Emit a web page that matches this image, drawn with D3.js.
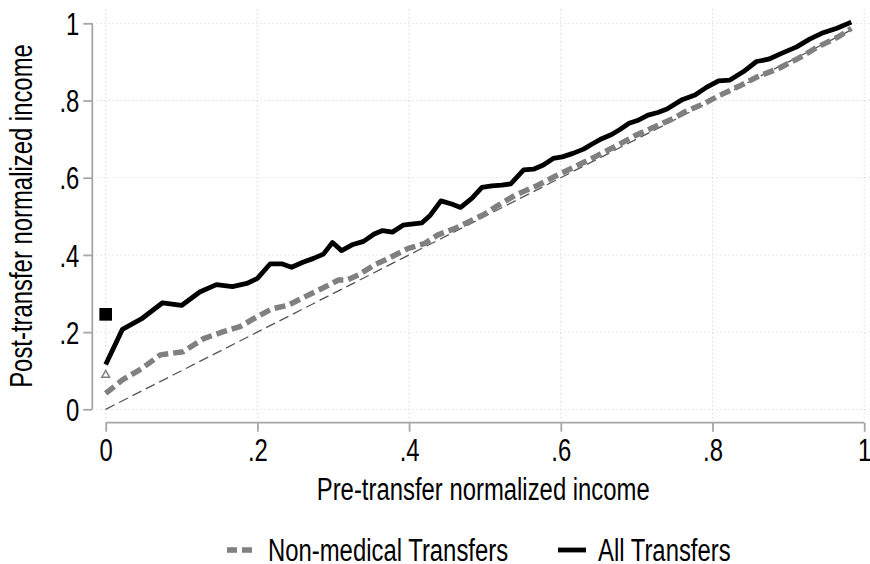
<!DOCTYPE html>
<html>
<head>
<meta charset="utf-8">
<script src="https://cdn.jsdelivr.net/npm/d3@7"></script>
<style>
  html, body { margin: 0; padding: 0; background: #fff; }
  svg { display: block; }
  text { font-family: "Liberation Sans Narrow", "Arial Narrow", "Liberation Sans", Arial, sans-serif; fill: #000; }
</style>
</head>
<body>
<svg id="chart" width="870" height="564"></svg>
<script>
// ---------------- DATA ----------------
const xTicks = [0, 0.2, 0.4, 0.6, 0.8, 1];
const xTickLabels = ["0", ".2", ".4", ".6", ".8", "1"];
const yTicks = [0, 0.2, 0.4, 0.6, 0.8, 1];
const yTickLabels = ["0", ".2", ".4", ".6", ".8", "1"];

const allX = [0, 0.022, 0.047, 0.075, 0.100, 0.124, 0.146, 0.167, 0.186, 0.200, 0.217, 0.232, 0.245, 0.260, 0.274, 0.287, 0.299, 0.311, 0.326, 0.340, 0.354, 0.365, 0.378, 0.392, 0.403, 0.417, 0.428, 0.442, 0.456, 0.468, 0.483, 0.496, 0.509, 0.522, 0.534, 0.551, 0.564, 0.577, 0.590, 0.602, 0.616, 0.630, 0.642, 0.654, 0.667, 0.678, 0.690, 0.701, 0.715, 0.728, 0.740, 0.759, 0.777, 0.792, 0.808, 0.823, 0.841, 0.858, 0.874, 0.891, 0.911, 0.928, 0.944, 0.964, 0.983];
const allY = [0.116, 0.207, 0.234, 0.276, 0.269, 0.304, 0.323, 0.318, 0.326, 0.339, 0.377, 0.377, 0.368, 0.381, 0.391, 0.402, 0.432, 0.411, 0.427, 0.435, 0.454, 0.463, 0.459, 0.477, 0.480, 0.483, 0.503, 0.540, 0.532, 0.523, 0.547, 0.575, 0.579, 0.581, 0.584, 0.620, 0.622, 0.633, 0.650, 0.654, 0.663, 0.674, 0.688, 0.701, 0.712, 0.725, 0.741, 0.748, 0.762, 0.769, 0.778, 0.801, 0.814, 0.834, 0.851, 0.853, 0.875, 0.901, 0.907, 0.922, 0.939, 0.959, 0.974, 0.987, 1.003];

const nonMedX = [0, 0.022, 0.047, 0.072, 0.102, 0.129, 0.155, 0.177, 0.199, 0.219, 0.241, 0.263, 0.289, 0.307, 0.318, 0.333, 0.355, 0.373, 0.399, 0.421, 0.438, 0.461, 0.483, 0.500, 0.513, 0.540, 0.566, 0.592, 0.619, 0.645, 0.671, 0.698, 0.724, 0.751, 0.764, 0.790, 0.808, 0.834, 0.860, 0.887, 0.913, 0.939, 0.966, 0.983];
const nonMedY = [0.041, 0.076, 0.105, 0.141, 0.149, 0.183, 0.201, 0.214, 0.239, 0.260, 0.270, 0.292, 0.317, 0.335, 0.335, 0.348, 0.375, 0.391, 0.417, 0.430, 0.452, 0.469, 0.490, 0.506, 0.523, 0.555, 0.577, 0.603, 0.629, 0.654, 0.680, 0.709, 0.732, 0.756, 0.771, 0.793, 0.812, 0.836, 0.862, 0.883, 0.909, 0.939, 0.965, 0.987];

const diagX = [0, 0.983];
const diagY = [0, 0.983];

const squareMarkerX = [0];
const squareMarkerY = [0.246];
const triangleMarkerX = [0];
const triangleMarkerY = [0.089];

const legendLabels = ["Non-medical Transfers", "All Transfers"];
const xTitle = "Pre-transfer normalized income";
const yTitle = "Post-transfer normalized income";

// ---------------- CHART ----------------
const svg = d3.select("#chart");
const x = d3.scaleLinear().domain([0, 1]).range([105.7, 864.2]);
const y = d3.scaleLinear().domain([0, 1]).range([409.3, 23.3]);
const plotL = 96.5, plotR = 870, plotT = 9, plotB = 418;
const FS = 31;
const SQUEEZE = 0.77;

// grid
const grid = svg.append("g").attr("stroke", "#cfcfcf").attr("stroke-width", 1).attr("stroke-dasharray", "1,3").attr("fill", "none");
yTicks.forEach(t => grid.append("line").attr("x1", plotL).attr("x2", plotR).attr("y1", y(t)).attr("y2", y(t)));
xTicks.forEach(t => grid.append("line").attr("x1", x(t)).attr("x2", x(t)).attr("y1", plotT).attr("y2", plotB));

// axes
const axisColor = "#a6a6a6";
const yAxis = d3.axisLeft(y).tickValues(yTicks).tickFormat((d, i) => yTickLabels[i]).tickSize(9).tickPadding(4);
const gy = svg.append("g").attr("transform", "translate(92.3,0)").call(yAxis);
const xAxis = d3.axisBottom(x).tickValues(xTicks).tickFormat((d, i) => xTickLabels[i]).tickSize(9).tickPadding(7);
const gx = svg.append("g").attr("transform", "translate(0,422.7)").call(xAxis);
[gx, gy].forEach(g => {
  g.attr("font-family", null).attr("font-size", null);
  g.select(".domain").attr("stroke", axisColor).attr("stroke-width", 1.8);
  g.selectAll(".tick line").attr("stroke", axisColor).attr("stroke-width", 1.8);
  g.selectAll(".tick text").attr("font-size", FS).attr("fill", "#000");
});
gy.select(".domain").attr("d", `M0,${y(0)}V${y(1)}`);
gx.select(".domain").attr("d", `M${x(0)},0H${x(1)}`);
gy.selectAll(".tick text").attr("dy", "0.36em");
gx.selectAll(".tick text").attr("dy", "0.72em");

// lines
const line = d3.line().x(d => x(d[0])).y(d => y(d[1]));
svg.append("path").datum(diagX.map((v, i) => [v, diagY[i]]))
  .attr("d", line).attr("fill", "none").attr("stroke", "#555").attr("stroke-width", 1.3).attr("stroke-dasharray", "10,5");
svg.append("path").datum(nonMedX.map((v, i) => [v, nonMedY[i]]))
  .attr("d", line).attr("fill", "none").attr("stroke", "#808080").attr("stroke-width", 5.5).attr("stroke-dasharray", "11,5").attr("stroke-linejoin", "round");
svg.append("path").datum(allX.map((v, i) => [v, allY[i]]))
  .attr("d", line).attr("fill", "none").attr("stroke", "#000").attr("stroke-width", 4.8).attr("stroke-linejoin", "round");

// markers
svg.selectAll(".sq").data(squareMarkerX.map((v, i) => [v, squareMarkerY[i]])).enter().append("path")
  .attr("transform", d => `translate(${x(d[0])},${y(d[1])})`)
  .attr("d", d3.symbol().type(d3.symbolSquare).size(160)).attr("fill", "#000");
svg.selectAll(".tri").data(triangleMarkerX.map((v, i) => [v, triangleMarkerY[i]])).enter().append("path")
  .attr("transform", d => `translate(${x(d[0])},${y(d[1])})`)
  .attr("d", d3.symbol().type(d3.symbolTriangle).size(26)).attr("fill", "none").attr("stroke", "#808080").attr("stroke-width", 1.5);

// titles
svg.append("text").attr("x", (plotL + plotR) / 2).attr("y", 500).attr("text-anchor", "middle").attr("font-size", FS).text(xTitle);
svg.append("text").attr("transform", "translate(32,216) rotate(-90)").attr("text-anchor", "middle").attr("font-size", FS).text(yTitle);

// legend
const lg = svg.append("g");
lg.append("line").attr("x1", 227).attr("x2", 254).attr("y1", 550).attr("y2", 550).attr("stroke", "#808080").attr("stroke-width", 5.5).attr("stroke-dasharray", "10,5");
lg.append("text").attr("x", 268).attr("y", 561).attr("font-size", FS).text(legendLabels[0]);
lg.append("line").attr("x1", 558).attr("x2", 586).attr("y1", 550).attr("y2", 550).attr("stroke", "#000").attr("stroke-width", 4.8);
lg.append("text").attr("x", 598).attr("y", 561).attr("font-size", FS).text(legendLabels[1]);

// condense text if no narrow font is installed
(function () {
  const probe = svg.append("text").attr("font-size", 100).text("Non-medical Transfers");
  const w1 = probe.node().getComputedTextLength();
  probe.style("font-family", "'Liberation Sans', Arial, sans-serif");
  const w2 = probe.node().getComputedTextLength();
  probe.remove();
  if (w1 / w2 > 0.92) {
    svg.selectAll("text").each(function () {
      const len = this.getComputedTextLength();
      d3.select(this).attr("textLength", len * SQUEEZE).attr("lengthAdjust", "spacingAndGlyphs");
    });
  }
})();
</script>
</body>
</html>
